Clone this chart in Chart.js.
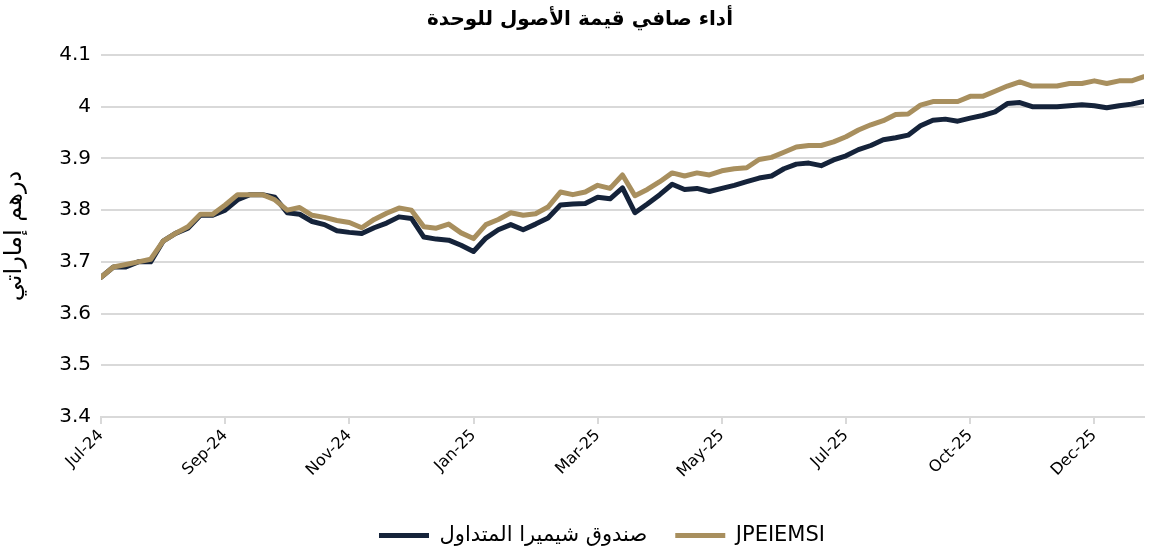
<!DOCTYPE html>
<html>
<head>
<meta charset="utf-8">
<script src="https://cdn.jsdelivr.net/npm/chart.js@4.4.1/dist/chart.umd.min.js"></script>
<style>
  html, body { margin: 0; padding: 0; background: #fff; }
  #wrap { width: 1160px; height: 552px; }
</style>
</head>
<body>
<div id="wrap"><canvas id="navChart"></canvas></div>
<script>
// Tick labels shown every 10 points on the x axis
const tickLabels = ['Jul-24', 'Sep-24', 'Nov-24', 'Jan-25', 'Mar-25', 'May-25', 'Jul-25', 'Oct-25', 'Dec-25'];

// Fund NAV per unit (AED)
const fundValues = [
  3.67, 3.69, 3.69, 3.70, 3.70, 3.74, 3.755, 3.765, 3.79, 3.79,
  3.80, 3.82, 3.83, 3.83, 3.825, 3.795, 3.792, 3.778, 3.772, 3.76,
  3.757, 3.755, 3.766, 3.775, 3.787, 3.784, 3.748, 3.744, 3.742, 3.732,
  3.72, 3.746, 3.762, 3.772, 3.762, 3.773, 3.785, 3.81, 3.812, 3.813,
  3.825, 3.822, 3.843, 3.795, 3.812, 3.83, 3.85, 3.84, 3.842, 3.836,
  3.842, 3.848, 3.855, 3.862, 3.866, 3.88, 3.889, 3.891, 3.886, 3.897,
  3.905, 3.917, 3.925, 3.936, 3.94, 3.945, 3.963, 3.974, 3.976, 3.972,
  3.978, 3.983, 3.99, 4.006, 4.008, 4.0, 4.0, 4.0, 4.002, 4.004,
  4.002, 3.998, 4.002, 4.005, 4.01
];

// JPEIEMSI index (rebased)
const indexValues = [
  3.67, 3.69, 3.695, 3.70, 3.705, 3.74, 3.755, 3.768, 3.792, 3.792,
  3.81, 3.83, 3.83, 3.83, 3.82, 3.80, 3.805, 3.79, 3.786, 3.78,
  3.776, 3.766, 3.782, 3.794, 3.804, 3.80, 3.768, 3.765, 3.773, 3.756,
  3.745, 3.772, 3.782, 3.795, 3.79, 3.793, 3.806, 3.835, 3.83, 3.835,
  3.848, 3.842, 3.868, 3.828, 3.84, 3.855, 3.872, 3.866, 3.872, 3.868,
  3.876, 3.88, 3.882, 3.898, 3.902, 3.912, 3.922, 3.925, 3.925, 3.932,
  3.942, 3.955, 3.965, 3.973, 3.985, 3.986, 4.003, 4.01, 4.01, 4.01,
  4.02, 4.02, 4.03, 4.04, 4.048, 4.04, 4.04, 4.04, 4.045, 4.045,
  4.05, 4.045, 4.05, 4.05, 4.058
];

const seriesNames = ['صندوق شيميرا المتداول', 'JPEIEMSI'];
const navy = '#15233a';
const gold = '#a88f5e';
const fontFamily = "'DejaVu Sans', sans-serif";

function toPoints(values) {
    return values.map((v, i) => ({ x: i, y: v }));
}

// Nudge legend and title boxes to sit where the original puts them
const boxNudge = {
    id: 'boxNudge',
    afterLayout(chart) {
        const lg = chart.legend;
        lg.left += 30; lg.right += 30;
        lg.top += 4; lg.bottom += 4;
        const tb = chart.titleBlock;
        tb.left += 8; tb.right += 8;
        tb.top += 1; tb.bottom += 1;
    }
};

const ctx = document.getElementById('navChart').getContext('2d');
new Chart(ctx, {
    type: 'line',
    data: {
        datasets: [{
            label: seriesNames[0],
            data: toPoints(fundValues),
            borderColor: navy,
            backgroundColor: navy,
            borderWidth: 5,
            borderCapStyle: 'round',
            borderJoinStyle: 'round',
            pointRadius: 0,
            tension: 0,
            order: 1
        }, {
            label: seriesNames[1],
            data: toPoints(indexValues),
            borderColor: gold,
            backgroundColor: gold,
            borderWidth: 5,
            borderCapStyle: 'round',
            borderJoinStyle: 'round',
            pointRadius: 0,
            tension: 0,
            order: 0
        }]
    },
    options: {
        responsive: true,
        maintainAspectRatio: false,
        animation: false,
        layout: {
            padding: { left: 0, right: 16, top: 0, bottom: 0 }
        },
        scales: {
            x: {
                type: 'linear',
                min: 0,
                max: fundValues.length - 1,
                afterFit: function(scale) { scale.height = 76; },
                afterBuildTicks: function(scale) {
                    scale.ticks = tickLabels.map((t, i) => ({ value: i * 10 }));
                },
                ticks: {
                    autoSkip: false,
                    maxRotation: 45,
                    minRotation: 45,
                    color: '#000',
                    font: { family: fontFamily, size: 16 },
                    padding: 2,
                    callback: function(value) {
                        return tickLabels[Math.round(value / 10)];
                    }
                },
                grid: {
                    drawOnChartArea: false,
                    color: '#d9d9d9',
                    lineWidth: 2,
                    tickLength: 7
                },
                border: { color: '#d9d9d9', width: 2 }
            },
            y: {
                min: 3.4,
                max: 4.1,
                afterFit: function(scale) { scale.width = 101; },
                ticks: {
                    stepSize: 0.1,
                    color: '#000',
                    padding: 10,
                    font: { family: fontFamily, size: 20 },
                    callback: function(value) {
                        return String(parseFloat(value.toFixed(1)));
                    }
                },
                grid: {
                    color: '#d9d9d9',
                    lineWidth: 2,
                    drawTicks: false
                },
                border: { display: false },
                title: {
                    display: true,
                    text: 'درهم إماراتي',
                    color: '#000',
                    font: { family: fontFamily, size: 24 },
                    padding: { top: 0, bottom: 0 }
                }
            }
        },
        plugins: {
            title: {
                display: true,
                text: 'أداء صافي قيمة الأصول للوحدة',
                color: '#000',
                font: { family: fontFamily, size: 20, weight: 'bold' },
                padding: { top: 7, bottom: 24 }
            },
            legend: {
                position: 'bottom',
                labels: {
                    usePointStyle: true,
                    pointStyle: 'line',
                    pointStyleWidth: 50,
                    boxHeight: 5,
                    color: '#000',
                    padding: 28,
                    font: { family: fontFamily, size: 21 },
                    sort: (a, b) => a.datasetIndex - b.datasetIndex
                }
            },
            tooltip: { enabled: false }
        }
    },
    plugins: [boxNudge]
});
</script>
</body>
</html>
